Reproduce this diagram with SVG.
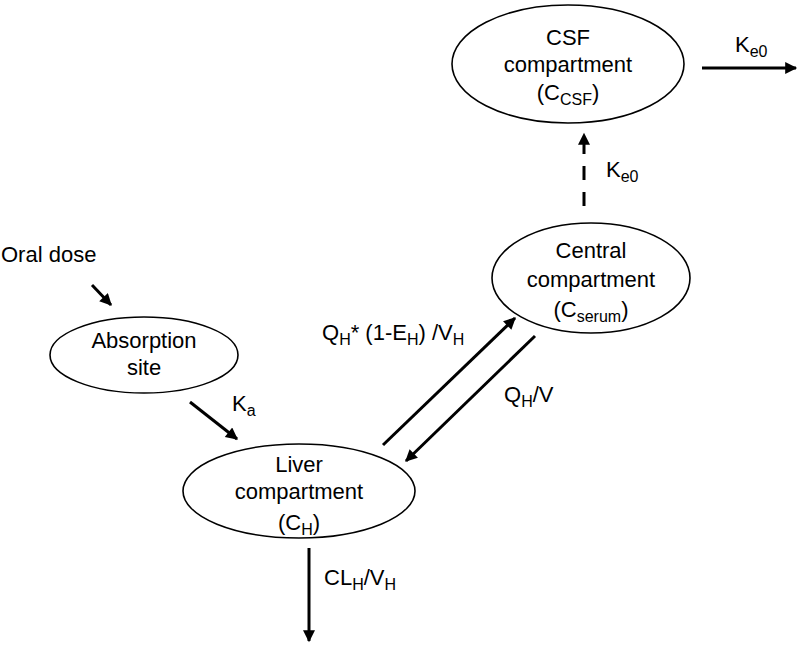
<svg xmlns="http://www.w3.org/2000/svg" width="800" height="646" viewBox="0 0 800 646">
<style>
.n{fill:#fff;stroke:#000;stroke-width:1.6}
text{font-family:"Liberation Sans",Arial,sans-serif;font-size:22px;fill:#000}
.c{text-anchor:middle}
.s{font-size:16px}
.e{stroke:#000;stroke-width:3;fill:none}
</style>
<defs>
<marker id="ah" viewBox="0 0 10 10" refX="9" refY="5" markerWidth="4.5" markerHeight="4" orient="auto" markerUnits="strokeWidth">
<path d="M0,0 L10,5 L0,10 Z" fill="#000"/>
</marker>
</defs>
<rect width="800" height="646" fill="#fff"/>
<g id="connectors">
<line class="e" x1="92" y1="285" x2="111" y2="305" marker-end="url(#ah)"/>
<line class="e" x1="190" y1="402" x2="237" y2="439" marker-end="url(#ah)"/>
<line class="e" x1="383" y1="445" x2="515" y2="318" marker-end="url(#ah)"/>
<line class="e" x1="535" y1="336" x2="406" y2="461" marker-end="url(#ah)"/>
<line class="e" x1="309" y1="548" x2="309" y2="641" marker-end="url(#ah)"/>
<line class="e" x1="584" y1="206" x2="584" y2="134" stroke-dasharray="14 12" marker-end="url(#ah)"/>
<line class="e" x1="702" y1="68" x2="796" y2="68" marker-end="url(#ah)"/>
<text x="1" y="262">Oral dose</text>
<text x="232" y="411">K<tspan class="s" dy="5">a</tspan></text>
<text x="322" y="340">Q<tspan class="s" dy="5">H</tspan><tspan dy="-5">* (1-E</tspan><tspan class="s" dy="5">H</tspan><tspan dy="-5">) /V</tspan><tspan class="s" dy="5">H</tspan></text>
<text x="504" y="402">Q<tspan class="s" dy="5">H</tspan><tspan dy="-5">/V</tspan></text>
<text x="324" y="585">CL<tspan class="s" dy="5">H</tspan><tspan dy="-5">/V</tspan><tspan class="s" dy="5">H</tspan></text>
<text x="606" y="177">K<tspan class="s" dy="5">e0</tspan></text>
<text x="735" y="52">K<tspan class="s" dy="5">e0</tspan></text>
</g>
<g id="csf">
<ellipse class="n" cx="568" cy="64" rx="116" ry="59"/>
<text class="c" x="568" y="45">CSF</text>
<text class="c" x="568" y="72">compartment</text>
<text class="c" x="568" y="100">(C<tspan class="s" dy="5">CSF</tspan><tspan dy="-5">)</tspan></text>
</g>
<g id="central">
<ellipse class="n" cx="591" cy="278" rx="99" ry="55"/>
<text class="c" x="591" y="258">Central</text>
<text class="c" x="591" y="287">compartment</text>
<text class="c" x="591" y="317">(C<tspan class="s" dy="5">serum</tspan><tspan dy="-5">)</tspan></text>
</g>
<g id="absorption">
<ellipse class="n" cx="144" cy="355" rx="94" ry="38"/>
<text class="c" x="144" y="348">Absorption</text>
<text class="c" x="144" y="375">site</text>
</g>
<g id="liver">
<ellipse class="n" cx="299" cy="491" rx="116" ry="47"/>
<text class="c" x="299" y="472">Liver</text>
<text class="c" x="299" y="499">compartment</text>
<text class="c" x="299" y="530">(C<tspan class="s" dy="5">H</tspan><tspan dy="-5">)</tspan></text>
</g>
</svg>
